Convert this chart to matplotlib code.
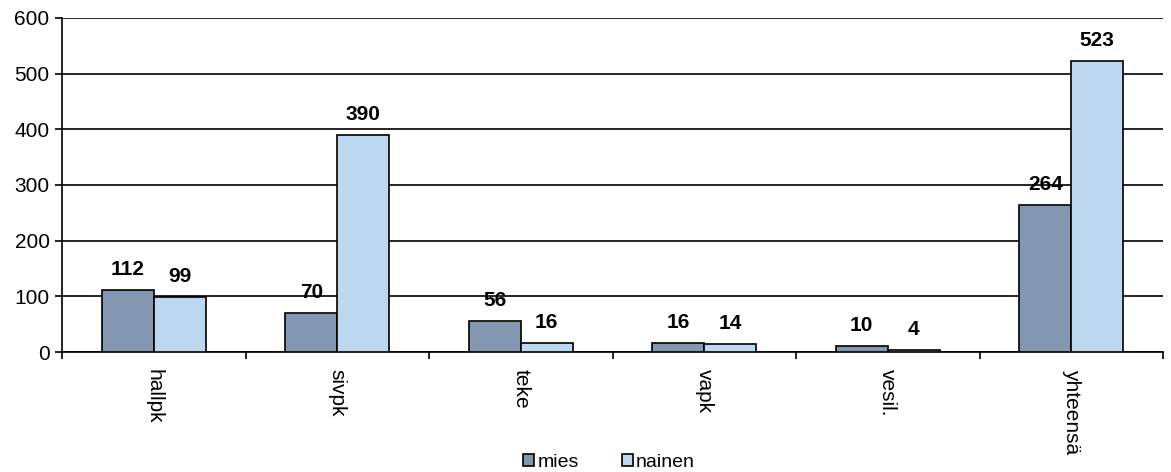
import matplotlib
matplotlib.use("Agg")
import matplotlib.pyplot as plt
import numpy as np

categories = ["hallpk", "sivpk", "teke", "vapk", "vesil.", "yhteensä"]
mies = [112, 70, 56, 16, 10, 264]
nainen = [99, 390, 16, 14, 4, 523]
series_names = ["mies", "nainen"]
yticks = [0, 100, 200, 300, 400, 500, 600]

plt.rcParams['font.family'] = ['Liberation Sans', 'DejaVu Sans']

fig = plt.figure(figsize=(11.71, 4.72), dpi=100)
ax = fig.add_axes([62/1171, 120/472, (1163-62)/1171, (352-18)/472])

x = np.arange(len(categories))
w = 0.283
c1 = "#8497B0"
c2 = "#BDD7EE"
b1 = ax.bar(x - w/2, mies, w, color=c1, edgecolor="black", linewidth=1.2, label=series_names[0], zorder=3)
b2 = ax.bar(x + w/2, nainen, w, color=c2, edgecolor="black", linewidth=1.2, label=series_names[1], zorder=3)

for bars, vals in ((b1, mies), (b2, nainen)):
    for r, v in zip(bars, vals):
        ax.annotate(str(v), (r.get_x() + r.get_width()/2, r.get_height()),
                    xytext=(0, 8), textcoords="offset points", ha="center", va="bottom",
                    fontsize=15, fontweight="bold", zorder=4)

ax.set_xlim(-0.5, len(categories) - 0.5)
ax.set_ylim(0, 600)
ax.set_yticks(yticks)
ax.yaxis.grid(True, color="black", linewidth=1.2, zorder=0)
ax.set_axisbelow(True)
ax.tick_params(axis="y", labelsize=15, length=5, width=1.2, direction="out", pad=4)
ax.set_xticks(x)
ax.set_xticklabels(categories, rotation=-90, fontsize=15)
ax.tick_params(axis="x", which="major", length=0, pad=12)
ax.set_xticks(np.arange(len(categories) + 1) - 0.5, minor=True)
ax.tick_params(axis="x", which="minor", length=5, width=1.2, direction="out")
for s in ["top", "right"]:
    ax.spines[s].set_visible(False)
for s in ["left", "bottom"]:
    ax.spines[s].set_linewidth(1.2)

fig.legend(handles=[b1, b2], loc="lower center", bbox_to_anchor=(0.52, -0.035), ncol=2,
           frameon=False, fontsize=14, handlelength=0.6, handleheight=0.6,
           handletextpad=0.15, columnspacing=2.2)

fig.savefig("out.png", dpi=100)
